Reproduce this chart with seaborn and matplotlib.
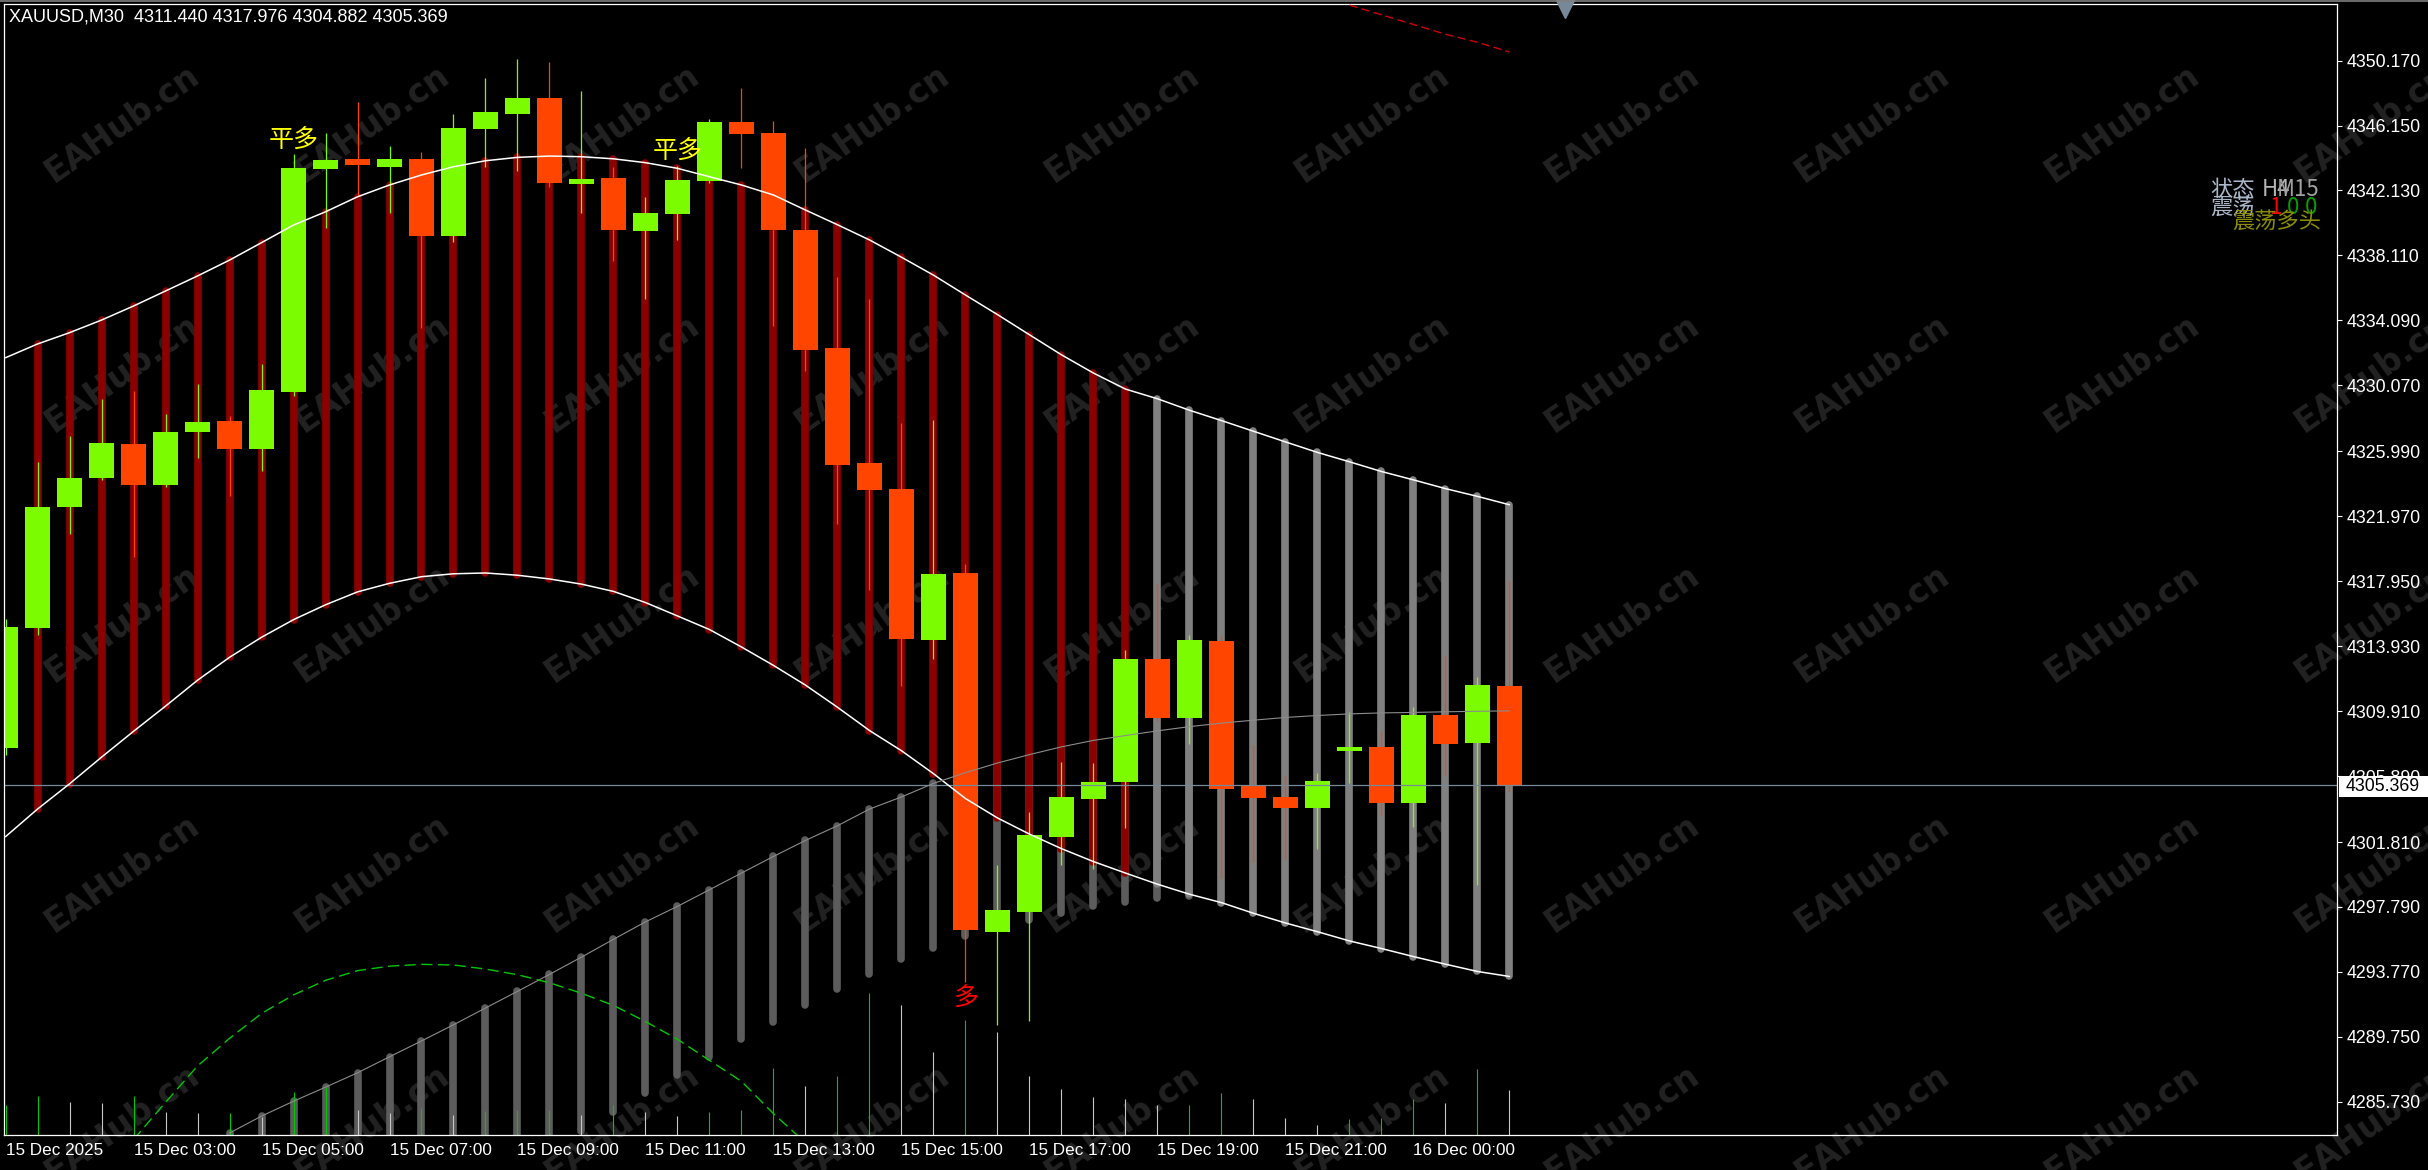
import numpy as np
import pandas as pd
import matplotlib
matplotlib.use("Agg")
import matplotlib.pyplot as plt
import matplotlib.transforms as mtrans
from matplotlib import font_manager
from matplotlib.patches import Rectangle
from matplotlib.lines import Line2D
import seaborn as sns

# ---------------- data ----------------
header = "XAUUSD,M30  4311.440 4317.976 4304.882 4305.369"

opens = [4307.60, 4315.07, 4322.56, 4324.35, 4326.44, 4323.90, 4327.20, 4327.86, 4326.13, 4329.67,
         4343.47, 4344.07, 4343.60, 4344.07, 4339.33, 4345.95, 4346.88, 4347.85, 4342.55, 4342.90,
         4339.64, 4340.70, 4342.73, 4346.36, 4345.66, 4339.69, 4332.37, 4325.26, 4323.65, 4314.33,
         4318.44, 4296.26, 4297.47, 4302.13, 4304.50, 4305.52, 4313.12, 4309.48, 4314.26, 4305.28,
         4304.60, 4303.93, 4307.44, 4307.70, 4304.20, 4309.67, 4307.94, 4311.44]
highs = [4315.60, 4325.34, 4326.93, 4329.20, 4329.72, 4328.30, 4330.15, 4328.17, 4331.39, 4344.37,
         4345.66, 4347.58, 4344.88, 4344.49, 4346.86, 4349.07, 4350.27, 4350.10, 4348.28, 4343.60,
         4341.74, 4343.64, 4346.53, 4348.45, 4346.43, 4344.76, 4336.77, 4335.40, 4327.75, 4327.90,
         4319.04, 4300.36, 4303.67, 4306.75, 4306.70, 4313.67, 4317.76, 4314.61, 4314.60, 4307.82,
         4305.88, 4306.09, 4309.88, 4308.65, 4310.16, 4313.38, 4312.01, 4317.976]
lows = [4307.20, 4314.60, 4320.90, 4324.20, 4319.45, 4323.80, 4325.57, 4323.20, 4324.80, 4329.40,
        4339.79, 4341.86, 4340.75, 4333.64, 4338.96, 4343.60, 4343.35, 4342.36, 4340.72, 4337.74,
        4335.39, 4339.06, 4342.60, 4343.53, 4333.76, 4330.96, 4321.48, 4317.40, 4311.49, 4313.15,
        4293.15, 4290.50, 4290.76, 4300.36, 4300.12, 4302.67, 4309.29, 4307.88, 4299.60, 4300.60,
        4300.76, 4301.37, 4305.44, 4303.44, 4302.73, 4305.88, 4299.17, 4304.882]
closes = [4315.10, 4322.56, 4324.35, 4326.52, 4323.90, 4327.20, 4327.82, 4326.13, 4329.78, 4343.50,
          4344.01, 4343.72, 4344.07, 4339.33, 4345.97, 4346.98, 4347.85, 4342.61, 4342.84, 4339.70,
          4340.72, 4342.78, 4346.35, 4345.62, 4339.70, 4332.27, 4325.17, 4323.60, 4314.40, 4318.40,
          4296.38, 4297.61, 4302.25, 4304.60, 4305.52, 4313.12, 4309.48, 4314.31, 4305.10, 4304.55,
          4303.93, 4305.59, 4307.70, 4304.22, 4309.67, 4307.89, 4311.54, 4305.369]
volumes = [1500, 1950, 1650, 1600, 1950, 1150, 1100, 1100, 900, 2150,
           2400, 1250, 1100, 1350, 1000, 1200, 1250, 1250, 1000, 1500,
           1150, 950, 1150, 1250, 3350, 2450, 2950, 7100, 6500, 4150,
           5750, 5150, 2950, 2300, 1900, 1800, 1500, 1500, 2100, 1800,
           850, 500, 800, 850, 1800, 1600, 3300, 2250]

# channel indicator (upper / lower envelope)
upper_band = [4331.78, 4332.63, 4333.33, 4334.11, 4334.98, 4335.91, 4336.84, 4337.82, 4338.90, 4339.99,
              4340.81, 4341.74, 4342.47, 4343.09, 4343.60, 4343.97, 4344.18, 4344.26, 4344.22, 4344.09,
              4343.85, 4343.50, 4342.98, 4342.47, 4341.85, 4340.92, 4340.01, 4339.07, 4338.00, 4336.89,
              4335.66, 4334.45, 4333.20, 4331.96, 4330.83, 4329.84, 4329.24, 4328.53, 4327.89, 4327.23,
              4326.57, 4325.92, 4325.34, 4324.74, 4324.22, 4323.68, 4323.20, 4322.68]
lower_band = [4302.14, 4303.85, 4305.41, 4307.06, 4308.66, 4310.22, 4311.82, 4313.24, 4314.48, 4315.57,
              4316.49, 4317.29, 4317.82, 4318.23, 4318.41, 4318.46, 4318.32, 4318.09, 4317.77, 4317.32,
              4316.63, 4315.80, 4314.96, 4313.88, 4312.74, 4311.52, 4310.15, 4308.71, 4307.46, 4306.04,
              4304.50, 4303.30, 4302.30, 4301.40, 4300.60, 4299.89, 4299.20, 4298.58, 4298.06, 4297.40,
              4296.80, 4296.26, 4295.69, 4295.22, 4294.72, 4294.25, 4293.80, 4293.49]
red_bars_range = (1, 35)      # bars where the channel is shown dark red
grey_bars_range = (36, 47)    # bars where the channel is shown grey

# second (rising) channel, bars 7..37
trend_start = 7
trend_top = [4283.80, 4284.85, 4285.77, 4286.64, 4287.53, 4288.52, 4289.50, 4290.50, 4291.54, 4292.57,
             4293.62, 4294.69, 4295.79, 4296.87, 4297.83, 4298.86, 4299.89, 4300.92, 4301.91, 4302.82,
             4303.85, 4304.60, 4305.44, 4306.10, 4306.70, 4307.22, 4307.70, 4308.10, 4308.40, 4308.69,
             4308.95, 4309.17, 4309.35, 4309.52, 4309.64, 4309.74, 4309.80, 4309.83, 4309.87, 4309.90,
             4309.93]
trend_bottom = [4273.20, 4274.10, 4275.00, 4275.90, 4276.90, 4277.90, 4278.90, 4279.90, 4280.90, 4281.90,
                4282.90, 4283.90, 4285.12, 4286.26, 4287.39, 4288.52, 4289.60, 4290.69, 4291.72, 4292.69,
                4293.64, 4294.55, 4295.26, 4295.97, 4296.50, 4297.00, 4297.40, 4297.83, 4298.12, 4298.35,
                4298.50]

# dashed green curve (bars 4..26)
curve_start = 4
green_curve = [4283.40, 4285.70, 4287.95, 4289.66, 4291.20, 4292.35, 4293.25, 4293.85, 4294.13, 4294.24,
               4294.20, 4293.95, 4293.60, 4293.10, 4292.45, 4291.70, 4290.70, 4289.60, 4288.30, 4287.00,
               4285.00, 4283.20, 4281.00]

# dashed red line at the top right (bars 42..47)
red_start = 42
red_dash = [4353.60, 4353.00, 4352.40, 4351.80, 4351.30, 4350.70]

last_price = 4305.369
price_ticks = [4350.170, 4346.150, 4342.130, 4338.110, 4334.090, 4330.070, 4325.990, 4321.970,
               4317.950, 4313.930, 4309.910, 4305.890, 4301.810, 4297.790, 4293.770, 4289.750, 4285.730]
price_tick_labels = ["4350.170", "4346.150", "4342.130", "4338.110", "4334.090", "4330.070", "4325.990",
                     "4321.970", "4317.950", "4313.930", "4309.910", "4305.890", "4301.810", "4297.790",
                     "4293.770", "4289.750", "4285.730"]
time_tick_bars = [0, 4, 8, 12, 16, 20, 24, 28, 32, 36, 40, 44]
time_labels = ["15 Dec 2025", "15 Dec 03:00", "15 Dec 05:00", "15 Dec 07:00", "15 Dec 09:00",
               "15 Dec 11:00", "15 Dec 13:00", "15 Dec 15:00", "15 Dec 17:00", "15 Dec 19:00",
               "15 Dec 21:00", "16 Dec 00:00"]

signals = [(9, 4345.24, "平多", "#ffff00"), (21, 4344.56, "平多", "#ffff00"), (30, 4292.16, "多", "#ff0000")]

# ---------------- fonts ----------------
installed = {f.name for f in font_manager.fontManager.ttflist}
if "Liberation Sans Narrow" in installed:
    ui_font, ui_size, time_size, head_size = "Liberation Sans Narrow", 15.5, 15, 15.5
elif "Arial Narrow" in installed:
    ui_font, ui_size, time_size, head_size = "Arial Narrow", 15.5, 15, 15.5
else:
    ui_font, ui_size, time_size, head_size = "Liberation Sans", 12.8, 12.3, 13
ui_family = [ui_font, "DejaVu Sans"]
cjk = ["Noto Sans CJK SC", "DejaVu Sans"]

# ---------------- figure ----------------
W, H, DPI = 2428, 1170, 100
sns.set_theme(style="dark")
plt.rcParams["font.family"] = ui_family
plt.rcParams["axes.grid"] = False

fig = plt.figure(figsize=(W / DPI, H / DPI), dpi=DPI, facecolor="black")
ax = fig.add_axes([4 / W, 1 - 1135 / H, 2333 / W, 1131 / H])
ax.set_facecolor("none")
ax.grid(False)
ax.set_xlim(-0.047, 72.86)
ax.set_ylim(4283.68, 4353.67)

idx = np.arange(len(opens))
o = np.array(opens); c = np.array(closes); h = np.array(highs); l = np.array(lows)
up = c >= o
green, orange = "#7cfc00", "#ff4500"
cols = np.where(up, green, orange)

# watermark
for i in range(10):
    for j in range(5):
        fig.text((122 + 250 * i) / W, 1 - (123 + 250 * j) / H, "EAHub.cn", rotation=35,
                 ha="center", va="center", fontsize=24, fontweight="bold",
                 family="DejaVu Sans", color="#222222", zorder=-1)

# rising dark grey channel bars
tx = np.arange(trend_start, trend_start + len(trend_bottom))
lc = ax.vlines(tx, trend_bottom, trend_top[:len(trend_bottom)], colors="#5c5c5c", lw=5.5, zorder=1)
lc.set_capstyle("round")

# channel bars
U = np.array(upper_band); L = np.array(lower_band)
r0, r1 = red_bars_range
lc = ax.vlines(idx[r0:r1 + 1], L[r0:r1 + 1], U[r0:r1 + 1], colors="#8b0000", lw=5.5, zorder=1.2)
lc.set_capstyle("round")
g0, g1 = grey_bars_range
lc = ax.vlines(idx[g0:g1 + 1], L[g0:g1 + 1], U[g0:g1 + 1], colors="#808080", lw=5.5, zorder=1.4)
lc.set_capstyle("round")

# volumes
vol = np.array(volumes, dtype=float)
vcols = ["#00c800"] + ["#00c800" if vol[i] >= vol[i - 1] else "#c8c8c8" for i in range(1, len(vol))]
vtrans = mtrans.blended_transform_factory(ax.transData, ax.transAxes)
ax.vlines(idx, 0, vol / 56550.0, colors=vcols, lw=0.8, transform=vtrans, zorder=1.6)

# candles
ax.vlines(idx, l, h, colors=cols, lw=0.9, zorder=2)
ax.bar(idx, np.abs(c - o), bottom=np.minimum(o, c), width=0.766, color=cols, lw=0, zorder=2.1)

# lines
ax.axhline(last_price, color="#778899", lw=0.9, zorder=2.5)
sns.lineplot(x=idx, y=U, color="white", lw=1.1, ax=ax, zorder=3)
sns.lineplot(x=idx, y=L, color="white", lw=1.1, ax=ax, zorder=3)
tx_full = np.arange(trend_start, trend_start + len(trend_top))
sns.lineplot(x=tx_full, y=trend_top, color="#8c8c8c", lw=0.8, ax=ax, zorder=3)
gx = np.arange(curve_start, curve_start + len(green_curve))
ax.plot(gx, green_curve, color="#00c800", lw=1.0, ls=(0, (8, 4)), zorder=3)
rx = np.arange(red_start, red_start + len(red_dash))
ax.plot(rx, red_dash, color="#d00000", lw=1.0, ls=(0, (6, 3)), zorder=3)

# signal labels
for bx, py, txt, colr in signals:
    ax.text(bx, py, txt, ha="center", va="center", fontsize=18, color=colr,
            family=cjk, zorder=4)

# shift marker
ax.plot([48.73], [4353.35], marker="v", ms=13, color="#778899", clip_on=False, zorder=5)

# axes styling
for s in ax.spines.values():
    s.set_color("white"); s.set_linewidth(0.9); s.set_visible(True)
ax.yaxis.tick_right()
ax.set_yticks(price_ticks)
ax.set_yticklabels(price_tick_labels, family=ui_family)
ax.tick_params(axis="y", colors="white", labelcolor="white", labelsize=ui_size, length=3.6,
               width=0.8, pad=3, direction="out", left=False, right=True)
ax.set_xticks(time_tick_bars)
ax.set_xticklabels(time_labels, ha="left", family=ui_family)
ax.tick_params(axis="x", colors="white", labelcolor="white", labelsize=time_size, length=0, pad=5.5)
ax.set_xlabel(""); ax.set_ylabel("")

# header
fig.text(9 / W, 1 - 8 / H, header, ha="left", va="top", fontsize=head_size, color="white",
         family=ui_family)

# current price box
fig.patches.append(Rectangle((2339 / W, 1 - 797 / H), 89 / W, 21 / H, transform=fig.transFigure,
                             facecolor="white", edgecolor="none", zorder=5))
fig.text(2346 / W, 1 - 786.5 / H, "4305.369", ha="left", va="center", fontsize=ui_size,
         color="black", family=ui_family, zorder=6)

# top-right status texts
status = [("状态", 2210, 190, "#a9b6c8"), ("H4", 2262, 190, "#b4b4b4"), ("M15", 2277, 190, "#a0a0a0"),
          ("震荡", 2210, 207, "#a9b6c8"), ("1", 2270, 208, "#ff0000"), ("0", 2287, 208, "#00a000"),
          ("0", 2305, 208, "#00a000"), ("震荡多头", 2232, 221, "#8c8c00")]
for txt, x, y, colr in status:
    fig.text(x / W, 1 - y / H, txt, ha="left", va="center", fontsize=16, color=colr,
             family=cjk, zorder=6)

# frame lines
fig.add_artist(Line2D([0, 1], [1 - 0.8 / H, 1 - 0.8 / H], transform=fig.transFigure,
                      color="#808080", lw=1.2))

fig.savefig("out.png", dpi=DPI, facecolor="black")
